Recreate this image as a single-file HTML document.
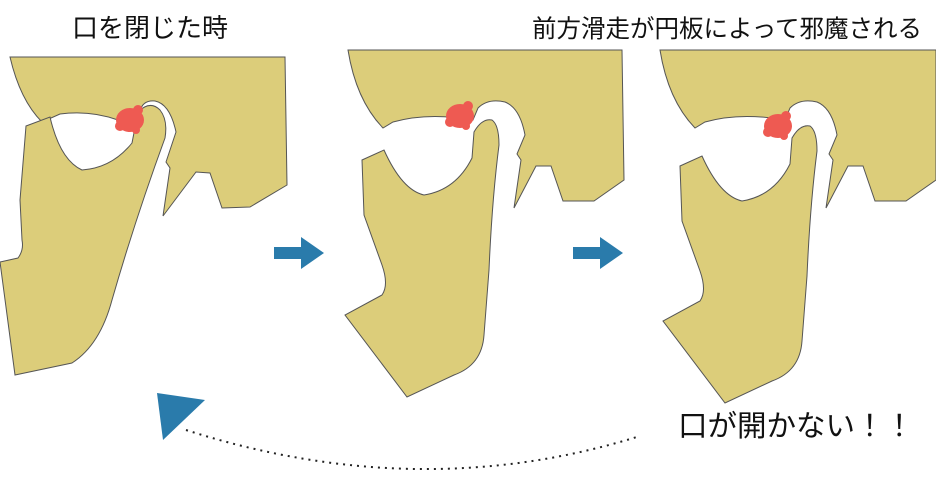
<!DOCTYPE html><html><head><meta charset="utf-8"><style>body{margin:0;background:#fff}svg{display:block}text{font-family:"Liberation Sans","Noto Sans CJK JP",sans-serif;fill:#111}</style></head><body>
<svg width="936" height="492" viewBox="0 0 936 492">
<defs>
<g id="skull"><path d="M0,0 L274,0 L276,130 L246,151 L215,151 L203,116 L188,116 L166,158 L173,110 L169,104 L177,85 Q172,58 157,52 Q140,48 130,58 L125,70 Q80,62 45,72 L35,78 Q8,50 0,0 Z" fill="#dccd7a" stroke="#555" stroke-width="1"/></g>
<g id="jaw"><path d="M18,110 L40,100 Q58,140 80,145 Q112,140 128,108 L130,82 Q138,68 148,70 Q155,75 155,95 Q148,150 145,220 Q142,260 140,285 Q138,315 110,325 L63,347 L1,265 L38,245 Q45,235 38,215 L20,165 Z" fill="#dccd7a" stroke="#555" stroke-width="1"/></g>
<g id="disc" fill="#ee5a52"><ellipse cx="0" cy="0" rx="14" ry="12"/><circle cx="-10" cy="6" r="5"/><circle cx="8" cy="-10" r="5"/><circle cx="6" cy="10" r="4"/></g>
<g id="arr"><path d="M0,-6 L27,-6 L27,-16 L50,0 L27,16 L27,6 L0,6 Z" fill="#2a7bab"/></g>
</defs>
<!-- panel 1 -->
<path d="M10,57 L285,57 L287,185 L250,207 L222,208 L210,173 L196,172 L163,216 L170,168 L166,162 L176,132 Q170,104 155,101 Q142,100 140,112 L118,120 Q90,110 60,114 L42,122 Q20,100 10,57 Z" fill="#dccd7a" stroke="#555" stroke-width="1"/>
<path d="M26,126 L50,117 Q60,160 82,170 Q112,168 132,143 L138,112 Q150,100 160,110 Q168,120 165,138 Q135,220 112,300 Q100,345 72,363 L15,375 L0,262 L18,258 Q24,250 22,240 L20,200 Z" fill="#dccd7a" stroke="#555" stroke-width="1"/>
<use href="#disc" x="130" y="120"/>
<!-- panel 3 -->
<path d="M660,50 L936,50 L936,180 L906,201 L875,201 L863,166 L848,166 L826,208 L833,160 L829,154 L837,135 Q832,108 817,102 Q800,98 790,108 L785,120 Q740,112 705,122 L695,128 Q668,100 660,50 Z" fill="#dccd7a" stroke="#555" stroke-width="1"/>
<use href="#jaw" x="662" y="56"/>
<use href="#disc" x="778" y="126"/>
<!-- panel 2 -->
<use href="#skull" x="348" y="50"/>
<use href="#jaw" x="344" y="50"/>
<use href="#disc" x="460" y="116"/>
<use href="#arr" x="274" y="253"/>
<use href="#arr" x="573" y="253"/>
<path d="M157,393 L205,400 L163,440 Z" fill="#2a7bab"/>
<path d="M186,430 Q420,505 640,436" fill="none" stroke="#222" stroke-width="2" stroke-dasharray="2 5"/>
<text x="72" y="37" font-size="26">口を閉じた時</text>
<text x="532" y="37" font-size="24.5">前方滑走が円板によって邪魔される</text>
<text x="678" y="436" font-size="29.5">口が開かない！！</text>
</svg></body></html>
